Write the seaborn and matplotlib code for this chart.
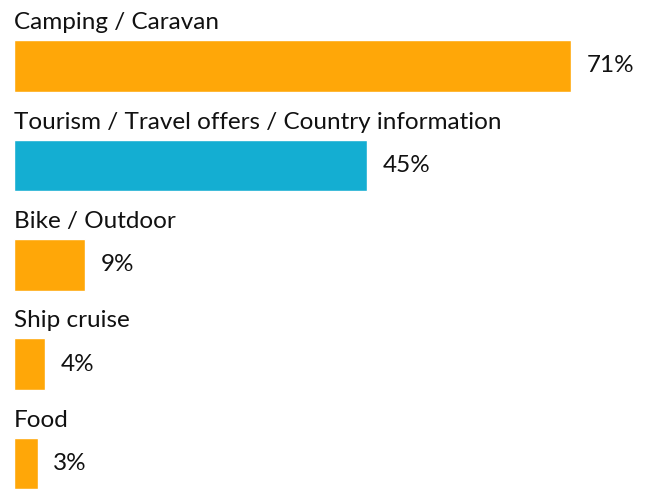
import matplotlib
matplotlib.use("Agg")
import matplotlib.pyplot as plt
import seaborn as sns

# --- Data ---
categories = ["Camping / Caravan", "Tourism / Travel offers / Country information",
              "Bike / Outdoor", "Ship cruise", "Food"]
values = [71, 45, 9, 4, 3]
value_labels = ["71%", "45%", "9%", "4%", "3%"]
bar_colors = ["#FFA708", "#14AED2", "#FFA708", "#FFA708", "#FFA708"]

sns.set_style("white")
plt.rcParams["font.family"] = ["Lato", "DejaVu Sans"]

fig = plt.figure(figsize=(6.51, 5.00), dpi=100)
ax = fig.add_axes([14 / 651, 0, 637 / 651, 1])

sns.barplot(x=values, y=categories, hue=categories, palette=bar_colors,
            saturation=1, orient="h", width=0.52, legend=False, ax=ax)

ax.set_xlim(0, 637 / 7.85)
ax.set_ylim(4.367, -0.664)
ax.axis("off")

# labels above bars, values right of bars
for i, (cat, val, lab) in enumerate(zip(categories, values, value_labels)):
    ax.text(0, i - 0.33, cat, ha="left", va="bottom", fontsize=17.5, color="#111111")
    ax.text(val + 2.0, i, lab, ha="left", va="center", fontsize=17.5, color="#111111")

fig.savefig("out.png", dpi=100)
